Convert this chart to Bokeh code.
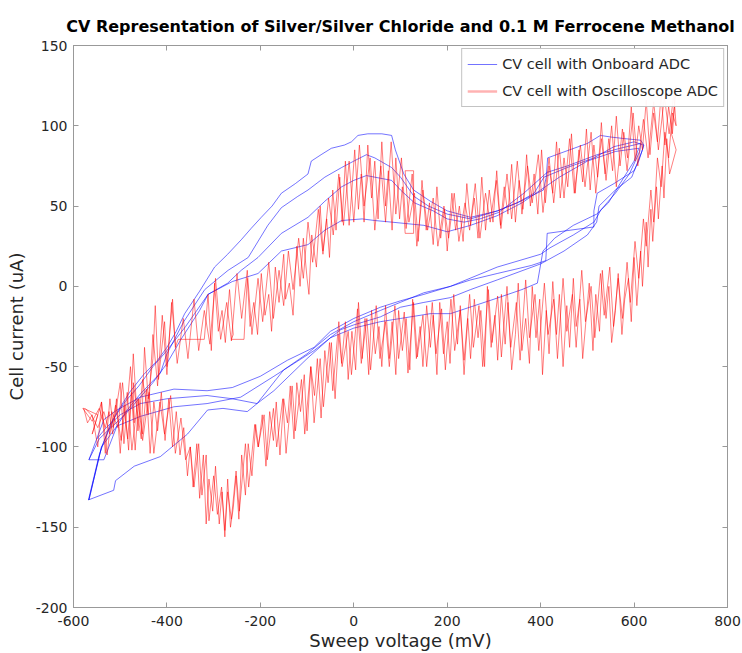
from bokeh.plotting import figure
from bokeh.models import Range1d, LinearAxis, FixedTicker, Legend, LegendItem, CustomJSTickFormatter
from bokeh.embed import file_html
from bokeh.resources import INLINE

# ---------------- data (mV, uA) ----------------
blue_a_fwd = [(-567,-108),(-535,-108),(-507,-87),(-485,-77),(-457,-67),(-414,-54),(-400,-42),(-364,-22),(-319,-2),(-290,5),(-269,10),(-226,18),(-184,38),(-155,49),(-120,56),(-98,60),(-62,68),(-26,74),(0,78),(27,82),(45,80),(81,74),(100,68),(129,56),(160,50),(200,45),(250,42),(307,47),(350,52),(386,58),(407,68),(457,74),(514,80),(557,87),(600,90),(620,88)]
blue_a_rev = [(618,85),(595,68),(560,60),(525,50),(520,40),(500,32),(450,22),(400,14),(307,4),(250,-2),(207,-7),(150,-10),(100,-13),(57,-19),(0,-24),(-28,-27),(-85,-40),(-171,-56),(-242,-69),(-314,-73),(-385,-75),(-457,-81),(-507,-87),(-540,-100),(-567,-133)]
blue_b_fwd = [(-567,-133),(-540,-100),(-510,-80),(-480,-66),(-450,-55),(-420,-46),(-400,-38),(-380,-28),(-362,-17),(-330,-3),(-298,12),(-270,20),(-241,29),(-220,36),(-198,43),(-175,50),(-155,58),(-125,64),(-98,70),(-91,78),(-70,82),(-48,86),(-20,88),(-5,90),(9,94),(30,95),(60,95),(81,94),(89,85),(107,70),(128,60),(164,53),(200,47),(250,43),(308,47),(357,53),(406,60),(412,68),(415,80),(443,83),(500,89),(528,94),(550,93),(580,92),(614,91)]
blue_b_rev = [(621,88),(610,78),(600,72),(557,64),(521,58),(514,47),(514,37),(414,33),(411,16),(380,13),(307,8),(250,4),(207,0),(150,-5),(100,-9),(57,-13),(0,-20),(-50,-28),(-85,-38),(-142,-46),(-200,-56),(-260,-63),(-314,-65),(-385,-64),(-457,-69),(-507,-77),(-535,-83),(-567,-108)]
blue_c_fwd = [(-567,-108),(-545,-95),(-520,-88),(-490,-80),(-460,-70),(-430,-60),(-400,-48),(-370,-33),(-330,-15),(-312,-5),(-270,2),(-241,10),(-205,18),(-155,33),(-98,43),(-62,53),(-26,62),(0,66),(27,69),(81,66),(100,60),(130,52),(170,47),(200,42),(236,40),(270,42),(310,46),(364,58),(414,71),(457,75),(521,82),(570,86),(614,89)]
blue_c_rev = [(612,84),(590,70),(560,58),(530,48),(514,40),(470,32),(420,24),(400,20),(307,12),(207,0),(150,-4),(57,-15),(0,-22),(-50,-30),(-100,-42),(-150,-52),(-207,-73),(-228,-78),(-280,-76),(-313,-77),(-356,-92),(-414,-106),(-470,-112),(-510,-121),(-514,-127),(-568,-133)]
blue_d_fwd = [(-568,-133),(-545,-105),(-520,-85),(-490,-72),(-460,-62),(-430,-50),(-400,-40),(-360,-25),(-312,-5),(-260,3),(-205,8),(-180,15),(-155,22),(-98,26),(-62,35),(-26,41),(18,42),(45,41),(81,40),(150,38),(200,34),(250,38),(307,44),(360,52),(400,60),(440,68),(500,78),(560,84),(610,86)]
blue_d_rev = [(600,78),(570,64),(545,52),(520,45),(470,38),(430,30),(405,22),(393,2),(360,-2),(300,-8),(207,-17),(164,-17),(100,-20),(57,-22),(0,-26),(-50,-32),(-100,-45),(-171,-65),(-207,-73),(-260,-70),(-314,-68),(-400,-70),(-457,-73),(-500,-80),(-530,-88),(-550,-95)]

red_1_fwd = [(-578,-76),(-548,-80),(-560,-92),(-540,-72),(-532,-104),(-522,-70),(-515,-88),(-500,-60),(-492,-98),(-478,-50),(-470,-85),(-472,-60),(-455,-95),(-448,-38),(-440,-70),(-430,-45),(-425,-12),(-418,-58),(-405,-22),(-400,-50),(-388,-8),(-382,-38),(-376,-33),(-320,-33),(-312,-5),(-305,-40),(-298,2),(-290,-28),(-282,-15),(-275,-35),(-266,-2),(-258,-30),(-262,-33),(-235,-33),(-228,5),(-222,-25),(-214,-10),(-206,-30),(-198,8),(-190,-18),(-182,-5),(-176,-28),(-168,12),(-160,-10),(-150,20),(-146,-8),(-138,2),(-130,-18),(-122,25),(-115,0),(-108,30),(-100,5),(-96,-5),(-90,32),(-80,12),(-72,50),(-66,22),(-58,42),(-52,18),(-45,60),(-38,35),(-30,68),(-25,40),(-18,78),(-10,38),(-4,60),(2,85),(10,48),(16,70),(22,40),(30,88),(38,55),(45,78),(52,42),(60,90),(68,50),(74,72),(82,35),(90,80),(98,42),(104,62),(110,33),(128,33),(128,72),(110,72),(118,40),(130,58),(138,28),(146,66),(155,35),(162,52),(170,26),(178,62),(186,30),(194,48),(200,22),(210,58),(218,35),(226,50),(234,28),(242,64),(250,38),(258,55),(266,30),(274,68),(282,35),(290,60),(298,40),(306,72),(314,38),(322,62),(330,45),(338,76),(346,40),(354,66),(362,48),(370,82),(378,50),(386,70),(394,45),(402,85),(410,52),(418,75),(426,58),(434,90),(442,55),(450,80),(458,62),(466,95),(474,58),(482,85),(490,65),(498,98),(506,60),(514,88),(522,68),(530,102),(538,70),(546,92),(554,72),(562,106),(570,75),(578,96),(586,80),(594,112),(602,78),(610,100),(618,85),(626,116),(634,82),(642,108),(650,90),(658,120),(666,88),(674,112),(682,95),(690,125)]
red_1_rev = [(686,112),(680,95),(690,85),(676,70),(670,92),(664,55),(660,75),(652,42),(648,62),(640,28),(636,48),(630,12),(626,40),(618,0),(614,22),(606,-12),(600,18),(594,-22),(588,5),(580,-8),(574,-30),(566,8),(560,-15),(552,-35),(546,0),(540,-20),(532,10),(526,-28),(518,-5),(512,-40),(504,2),(498,-18),(490,-45),(484,-8),(476,-25),(470,5),(462,-38),(456,-12),(448,-50),(440,-5),(434,-30),(426,3),(418,-42),(412,-15),(404,-55),(398,-8),(390,-32),(382,0),(376,-48),(368,-20),(360,-40),(352,2),(346,-30),(338,-52),(330,-10),(324,-36),(316,-5),(308,-46),(302,-18),(294,-38),(286,0),(280,-50),(272,-15),(266,-32),(258,-8),(250,-45),(244,-20),(236,-55),(228,-12),(222,-36),(214,-5),(206,-48),(200,-22),(192,-42),(184,-10),(178,-55),(170,-18),(164,-38),(156,-12),(148,-50),(142,-25),(134,-45),(126,-8),(120,-52),(112,-20),(104,-40),(96,-15),(90,-55),(82,-22),(76,-45),(68,-12),(60,-50),(54,-25),(46,-42),(38,-15),(32,-55),(24,-20),(18,-45),(10,-10),(4,-52),(-4,-28),(-12,-58),(-18,-22),(-26,-48),(-32,-30),(-40,-70),(-48,-35),(-55,-60),(-62,-40),(-70,-82),(-78,-45),(-84,-68),(-92,-50),(-100,-90),(-106,-55),(-114,-78),(-122,-60),(-128,-95),(-136,-62),(-142,-85),(-150,-70),(-158,-105),(-166,-72),(-172,-96),(-180,-78),(-188,-112),(-196,-80),(-204,-100),(-210,-86),(-218,-118),(-226,-98),(-232,-130),(-240,-105),(-246,-145),(-252,-118),(-258,-138),(-264,-150),(-270,-120),(-276,-156),(-282,-128),(-288,-148),(-296,-112),(-302,-140),(-310,-120),(-316,-148),(-322,-105),(-330,-132),(-336,-98),(-344,-125),(-350,-100),(-356,-118),(-364,-88),(-372,-105),(-380,-78),(-388,-100),(-396,-70),(-404,-96),(-412,-66),(-420,-90),(-428,-72),(-436,-104),(-444,-64),(-452,-92),(-460,-70),(-468,-102),(-476,-66),(-484,-95),(-492,-74),(-500,-104),(-508,-70),(-516,-92),(-524,-78),(-532,-88),(-545,-76),(-560,-84),(-580,-76)]
red_2_fwd = [(-578,-76),(-570,-85),(-560,-80),(-548,-100),(-540,-72),(-528,-105),(-518,-78),(-505,-88),(-495,-60),(-482,-102),(-472,-42),(-462,-90),(-452,-58),(-440,-80),(-430,-30),(-420,-62),(-410,-18),(-400,-55),(-390,-10),(-378,-48),(-365,-20),(-355,-45),(-342,-8),(-332,-40),(-320,-15),(-308,-36),(-296,5),(-285,-33),(-272,-10),(-262,-34),(-250,8),(-240,-20),(-228,10),(-218,-30),(-205,5),(-195,-22),(-182,15),(-172,-20),(-160,10),(-150,-12),(-140,22),(-130,-2),(-118,30),(-108,5),(-98,40),(-88,15),(-76,48),(-66,20),(-54,55),(-44,32),(-32,70),(-22,38),(-10,78),(0,40),(12,88),(22,50),(35,80),(45,35),(58,75),(68,40),(80,90),(90,45),(102,80),(112,36),(125,70),(135,25),(148,60),(158,35),(170,55),(180,25),(193,50),(203,30),(215,58),(225,28),(238,52),(248,35),(260,64),(270,30),(282,58),(292,40),(305,66),(315,36),(328,70),(338,42),(350,78),(360,45),(372,75),(382,52),(395,82),(405,46),(418,80),(428,52),(440,86),(450,55),(462,92),(472,58),(485,88),(495,62),(508,96),(518,58),(530,92),(540,66),(552,100),(562,62),(575,98),(585,72),(598,108),(608,75),(620,104),(630,80),(642,115),(652,85),(665,118),(675,95),(685,120)]
red_2_rev = [(690,100),(682,108),(674,80),(666,96),(658,62),(650,80),(642,40),(636,60),(626,25),(620,42),(610,5),(602,28),(592,-10),(585,15),(575,-20),(566,5),(556,-25),(548,12),(536,-18),(528,8),(516,-32),(508,0),(496,-22),(488,10),(476,-38),(468,-5),(456,-28),(448,5),(436,-45),(428,-8),(416,-30),(408,2),(396,-40),(388,-5),(376,-32),(368,4),(356,-46),(348,-10),(336,-38),(328,0),(316,-44),(308,-6),(296,-35),(288,-2),(276,-50),(268,-12),(256,-38),(248,-5),(236,-46),(228,-15),(216,-40),(208,-8),(196,-52),(188,-14),(176,-42),(168,-10),(156,-50),(148,-18),(136,-44),(128,-10),(116,-54),(108,-16),(96,-45),(88,-12),(76,-50),(68,-22),(56,-45),(48,-12),(36,-52),(28,-20),(16,-48),(8,-14),(-5,-55),(-12,-28),(-25,-50),(-32,-22),(-45,-65),(-52,-35),(-65,-75),(-72,-45),(-85,-85),(-92,-50),(-105,-92),(-112,-58),(-125,-90),(-132,-62),(-145,-104),(-152,-70),(-165,-100),(-172,-76),(-185,-108),(-192,-80),(-205,-100),(-212,-86),(-225,-125),(-232,-98),(-245,-140),(-252,-115),(-262,-145),(-270,-128),(-276,-152),(-283,-125),(-292,-142),(-300,-118),(-310,-146),(-316,-105),(-325,-130),(-332,-98),(-342,-125),(-350,-100),(-360,-108),(-370,-82),(-382,-104),(-392,-68),(-405,-92),(-415,-72),(-428,-104),(-438,-66),(-452,-96),(-462,-70),(-475,-102),(-485,-66),(-498,-96),(-510,-74),(-522,-92),(-535,-78),(-548,-88),(-562,-80),(-575,-76)]

x_ticks = [-600, -400, -200, 0, 200, 400, 600, 800]
y_ticks = [-200, -150, -100, -50, 0, 50, 100, 150]

title_text = "CV Representation of Silver/Silver Chloride and 0.1 M Ferrocene Methanol"
x_label = "Sweep voltage (mV)"
y_label = "Cell current (uA)"
series_names = ["CV cell with Onboard ADC", "CV cell with Oscilloscope ADC"]

blue = blue_a_fwd + blue_a_rev + blue_b_fwd + blue_b_rev + blue_c_fwd + blue_c_rev + blue_d_fwd + blue_d_rev
red = red_1_fwd + red_1_rev + red_2_fwd + red_2_rev
blue_x = [q[0] for q in blue]; blue_y = [q[1] for q in blue]
red_x = [q[0] for q in red]; red_y = [q[1] for q in red]
nan = float("nan")

FONT = "DejaVu Sans"
TXT = "#262626"
AX = "#999999"

p = figure(width=742, height=653, output_backend="svg", toolbar_location=None,
           x_range=Range1d(-600, 800), y_range=Range1d(-200, 150),
           min_border_left=73, min_border_right=15, min_border_top=45, min_border_bottom=46)
p.title.text = title_text
p.title.align = "center"
p.title.text_font = FONT
p.title.text_font_size = "16px"
p.title.text_font_style = "bold"
p.title.text_color = "#000000"
p.title.offset = 0
p.title.standoff = 20

p.grid.visible = False
p.outline_line_color = AX
p.outline_line_width = 1
p.background_fill_color = "white"
p.border_fill_color = "white"

fmt_code = "return tick.toFixed(0);"
for ax in (p.xaxis[0], p.yaxis[0]):
    ax.major_tick_in = 5
    ax.major_tick_out = 0
    ax.minor_tick_in = 0
    ax.minor_tick_out = 0
    ax.axis_line_color = AX
    ax.major_tick_line_color = AX
    ax.major_label_text_font = FONT
    ax.major_label_text_font_size = "14px"
    ax.major_label_text_color = TXT
    ax.axis_label_text_font = FONT
    ax.axis_label_text_font_size = "18px"
    ax.axis_label_text_font_style = "normal"
    ax.axis_label_text_color = TXT
    ax.formatter = CustomJSTickFormatter(code=fmt_code)
p.xaxis[0].ticker = FixedTicker(ticks=x_ticks)
p.yaxis[0].ticker = FixedTicker(ticks=y_ticks)
p.xaxis[0].axis_label = x_label
p.yaxis[0].axis_label = y_label
p.xaxis[0].major_label_standoff = 8
p.yaxis[0].major_label_standoff = 6
p.xaxis[0].axis_label_standoff = 1
p.yaxis[0].axis_label_standoff = 6

top = LinearAxis(ticker=FixedTicker(ticks=x_ticks), major_label_text_alpha=0,
                 major_label_text_font_size="1px", major_tick_in=5, major_tick_out=0,
                 minor_tick_in=0, minor_tick_out=0, axis_line_color=AX, major_tick_line_color=AX)
right = LinearAxis(ticker=FixedTicker(ticks=y_ticks), major_label_text_alpha=0,
                   major_label_text_font_size="1px", major_tick_in=5, major_tick_out=0,
                   minor_tick_in=0, minor_tick_out=0, axis_line_color=AX, major_tick_line_color=AX)
p.add_layout(top, "above")
p.add_layout(right, "right")

rb = p.line(blue_x, blue_y, line_color="blue", line_alpha=0.55, line_width=1)
rr = p.line(red_x, red_y, line_color="red", line_alpha=0.5, line_width=1)
# legend swatch for the oscilloscope series is drawn paler/thicker, as in the reference
rr_key = p.line([nan], [nan], line_color="red", line_alpha=0.3, line_width=2.5)

leg = Legend(items=[LegendItem(label=series_names[0], renderers=[rb]),
                    LegendItem(label=series_names[1], renderers=[rr_key])],
             location="top_right")
leg.label_text_font = FONT
leg.label_text_font_size = "14.5px"
leg.label_text_color = TXT
leg.border_line_color = "#888888"
leg.border_line_width = 1
leg.glyph_width = 30
leg.glyph_height = 20
leg.label_height = 20
leg.spacing = 7
leg.padding = 5
leg.margin = 3
leg.label_standoff = 5
p.add_layout(leg)

open("out.html", "w").write(file_html(p, INLINE))
